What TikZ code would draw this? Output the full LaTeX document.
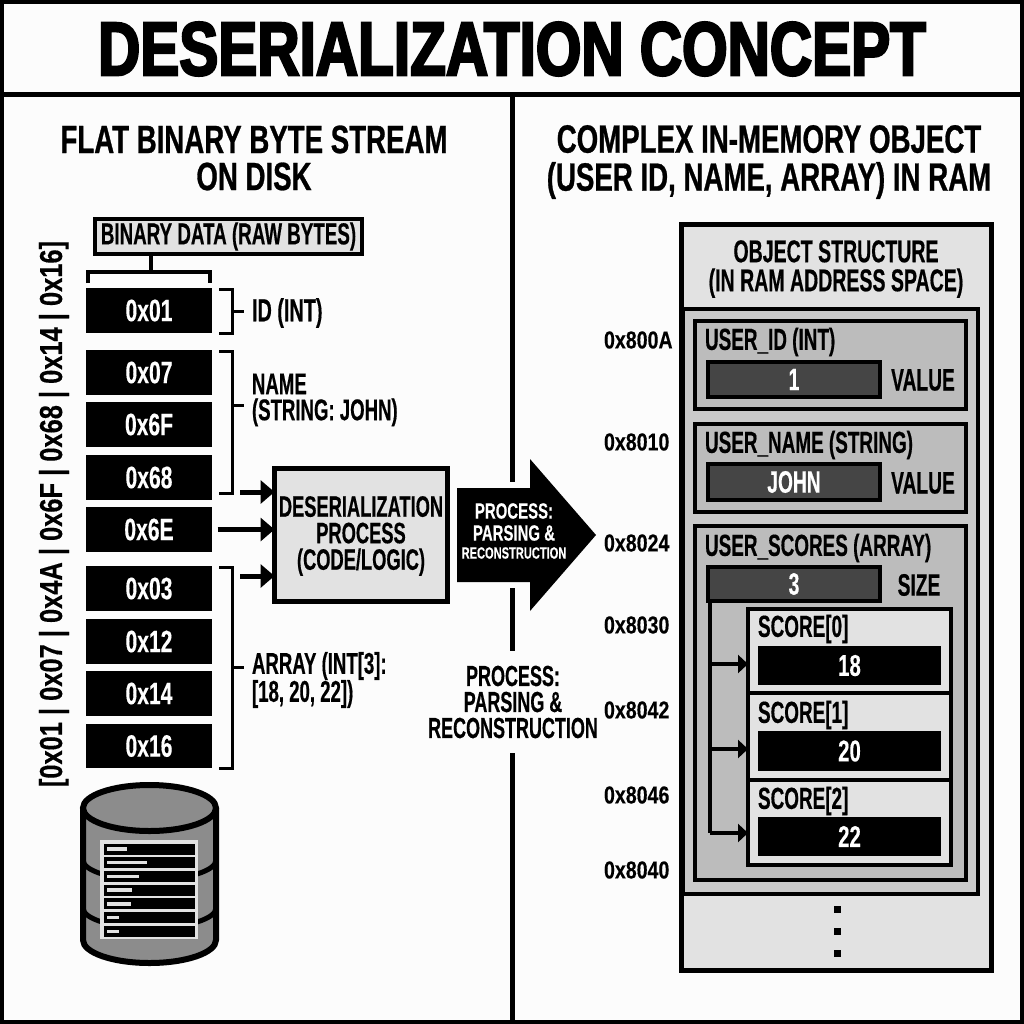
\documentclass[tikz,border=0pt]{standalone}
\usepackage{fontspec}
\setmainfont[FakeStretch=.68,FakeBold=.3]{Liberation Sans Bold}
\newfontfamily\narrowfont[FakeStretch=.62,FakeBold=.4]{Liberation Sans Bold}
\newfontfamily\widefont[FakeStretch=.80,FakeBold=.3]{Liberation Sans Bold}
\newfontfamily\titlefont[FakeStretch=.77,FakeBold=3]{Liberation Sans Bold}
\newfontfamily\headfont[FakeStretch=.70,FakeBold=.7]{Liberation Sans Bold}
\usetikzlibrary{arrows.meta}
\newcommand{\Tsz}[2]{\fontsize{#1}{#2}\selectfont}
\newcommand{\Nsz}[2]{\narrowfont\fontsize{#1}{#2}\selectfont}
\newcommand{\Wsz}[2]{\widefont\fontsize{#1}{#2}\selectfont}
\newcommand{\bx}[8]{%
  \pgfmathsetmacro{\bxw}{#4-#2-#6}\pgfmathsetmacro{\bxh}{#5-#3-#6}%
  \pgfmathsetmacro{\bxx}{(#2+#4)/2}\pgfmathsetmacro{\bxy}{(#3+#5)/2}%
  \node[rect,line width=#6pt,minimum width=\bxw pt,minimum height=\bxh pt,#7] (#1) at (\bxx,\bxy) {#8};}
\definecolor{panel}{HTML}{E2E2E2}
\definecolor{midg}{HTML}{CACACA}
\definecolor{deepg}{HTML}{BCBCBC}
\definecolor{barg}{HTML}{454545}
\definecolor{dbg}{HTML}{8C8C8C}
\tikzset{
  rect/.style={draw=black,rectangle,inner sep=0pt,outer sep=0pt,align=center},
  bytecell/.style={fill=black,text=white,draw=black,font=\Tsz{31}{31}},
  lbl/.style={inner sep=0pt,outer sep=0pt,anchor=west,align=left,text=black},
  ctr/.style={inner sep=0pt,outer sep=0pt,align=center,text=black},
  brk/.style={draw=black,line width=3pt,line cap=butt},
  bigarrow/.style={draw=black,line width=5pt,-{Triangle[length=14pt,width=23pt]}},
  smallarrow/.style={draw=black,line width=3.5pt,-{Triangle[length=10pt,width=18pt]},shorten >=0pt},
  valbar/.style={fill=barg,text=white,font=\Nsz{31}{31}},
  scorebar/.style={fill=black,text=white,font=\Tsz{30}{30}},
  typelbl/.style={lbl,font=\Nsz{30.5}{30.5}},
  addr/.style={lbl,font=\Wsz{24.5}{24.5}},
}
\begin{document}
\begin{tikzpicture}[x=1pt,y=-1pt]
\useasboundingbox (0,0) rectangle (1024,1024);
\fill[white!99!black] (0,0) rectangle (1024,1024);
% frame
\draw[line width=4pt] (2,2) rectangle (1022,1022);
\draw[line width=5pt] (0,95) -- (1024,95);
\coordinate (d0) at (512.5,95); \coordinate (d1) at (512.5,482);
\coordinate (d2) at (512.5,588); \coordinate (d3) at (512.5,651);
\coordinate (d4) at (512.5,753); \coordinate (d5) at (512.5,1024);
\draw[line width=5pt] (d0)--(d1) (d2)--(d3) (d4)--(d5);
% titles
\node[ctr,font=\titlefont\fontsize{76}{76}\selectfont] (title) at (512,49) {DESERIALIZATION CONCEPT};
\node[ctr,font=\headfont\fontsize{39.5}{37}\selectfont] (lefthead) at (254,158) {FLAT BINARY BYTE STREAM\\ON DISK};
\node[ctr,font=\headfont\fontsize{39.5}{38}\selectfont] (righthead) at (769,162) {COMPLEX IN-MEMORY OBJECT\\(USER ID, NAME, ARRAY) IN RAM};
% stream label
\node[ctr,rotate=90,font=\Wsz{31.8}{32}] (stream) at (54,514) {[0x01 | 0x07 | 0x4A | 0x6F | 0x68 | 0x14 | 0x16]};
% binary header
\bx{bin}{93}{217}{364}{256}{4}{fill=panel,font=\Nsz{30.3}{30}}{BINARY DATA (RAW BYTES)}
\coordinate (bt) at (151,272);
\coordinate (bl) at (88,283); \coordinate (br) at (210,283);
\draw[brk,line width=4pt] (bin.south -| bt) -- (bt);
\draw[brk,line width=4pt] (bl) -- (bl |- bt) -- (br |- bt) -- (br);
% bytes
\bx{bA}{86}{288}{212}{333}{1}{bytecell}{0x01}
\bx{bB}{86}{350}{212}{395}{1}{bytecell}{0x07}
\bx{bC}{86}{402}{212}{447}{1}{bytecell}{0x6F}
\bx{bD}{86}{455}{212}{500}{1}{bytecell}{0x68}
\bx{bE}{86}{507}{212}{552}{1}{bytecell}{0x6E}
\bx{bF}{86}{566}{212}{611}{1}{bytecell}{0x03}
\bx{bG}{86}{619}{212}{664}{1}{bytecell}{0x12}
\bx{bH}{86}{671}{212}{716}{1}{bytecell}{0x14}
\bx{bI}{86}{724}{212}{768}{1}{bytecell}{0x16}
% field labels
\node[lbl,font=\Nsz{32}{32}] (lid) at (252,313) {ID (INT)};
\node[lbl,font=\Nsz{30}{26}] (lname) at (252,400) {NAME\\(STRING: JOHN)};
\node[lbl,font=\Nsz{30}{28}] (larr) at (252,680) {ARRAY (INT[3]:\\[0pt][18, 20, 22])};
% brackets
\coordinate (k1a) at (219,289); \coordinate (k1b) at (219,333); \coordinate (k1c) at (232,311);
\draw[brk] (k1a) -- (k1a -| k1c) -- (k1b -| k1c) -- (k1b);
\coordinate (k1d) at (244,311); \draw[brk] (k1c) -- (k1d);
\coordinate (k2a) at (219,351); \coordinate (k2b) at (219,493); \coordinate (k2c) at (232,405);
\draw[brk] (k2a) -- (k2a -| k2c) -- (k2b -| k2c) -- (k2b);
\coordinate (k2d) at (244,405); \draw[brk] (k2c) -- (k2d);
\coordinate (k3a) at (219,567); \coordinate (k3b) at (219,768); \coordinate (k3c) at (232,667);
\draw[brk] (k3a) -- (k3a -| k3c) -- (k3b -| k3c) -- (k3b);
\coordinate (k3d) at (244,667); \draw[brk] (k3c) -- (k3d);
% process
\bx{proc}{272}{466}{450}{604}{5}{fill=panel}{}
\node[ctr,font=\Nsz{29.5}{26.5}] (proct) at (361,536) {DESERIALIZATION\\PROCESS\\(CODE/LOGIC)};
\coordinate (a1) at (240,492); \coordinate (a3) at (240,576);
\draw[bigarrow] (a1) -- (proc.west |- a1);
\draw[bigarrow] (bE.east) ++(6,0) coordinate (a2) -- (proc.west |- a2);
\draw[bigarrow] (a3) -- (proc.west |- a3);
% big arrow
\fill[black] (457,488) -- (530,488) -- (530,459) -- (596,535) -- (530,611) -- (530,582) -- (457,582) -- cycle;
\node[ctr,text=white,font=\Tsz{22}{22}] (p1) at (514,522) {PROCESS:\\PARSING \&};
\node[ctr,text=white,font=\Tsz{16.3}{16}] (p2) at (514,553) {RECONSTRUCTION};
\node[ctr,font=\Nsz{29}{26}] (p3) at (513,702) {PROCESS:\\PARSING \&\\RECONSTRUCTION};
% database
\fill[dbg] (82,808) -- (82,940) arc[start angle=180,end angle=0,x radius=67,y radius=25] -- (216,808) -- cycle;
\draw[line width=5pt] (83,860) arc[start angle=180,end angle=0,x radius=66.5,y radius=20];
\draw[line width=5pt] (83,908) arc[start angle=180,end angle=0,x radius=66.5,y radius=20];
\draw[line width=6pt] (83,808) -- (83,940) arc[start angle=180,end angle=0,x radius=66.5,y radius=23] -- (216,808);
\draw[line width=6pt,fill=dbg] (149.5,808) ellipse[x radius=66.5,y radius=23];
\bx{dbp}{100}{840}{198}{939}{3}{draw=panel,fill=panel}{}
\foreach \yy/\ww in {849/20,862.7/40,876.4/32,890.1/25,903.8/24,917.5/12,931.2/12}{
  \fill[black] (103.5,\yy-5.5) rectangle (195,\yy+5.5);
  \fill[panel] (107,\yy-1.7) rectangle (107+\ww,\yy+1.7);
}
% addresses
\foreach \nm/\yy/\tx in {ad1/340/0x800A,ad2/442/0x8010,ad3/543/0x8024,ad4/625/0x8030,ad5/710/0x8042,ad6/795/0x8046,ad7/870/0x8040}{
  \node[addr] (\nm) at (604,\yy) {\tx};
}
% object
\bx{obj}{679}{222}{994}{973}{5}{fill=panel}{}
\node[ctr,font=\Nsz{31.5}{29}] (objt) at (836,269) {OBJECT STRUCTURE\\(IN RAM ADDRESS SPACE)};
\bx{inner}{681}{307}{980}{896}{4}{fill=midg}{}
\bx{fid}{693}{319}{968}{411}{4}{fill=deepg}{}
\bx{fname}{693}{422}{968}{514}{4}{fill=deepg}{}
\bx{fscores}{693}{524}{968}{882}{4}{fill=deepg}{}
\node[typelbl] (tid) at (705,342) {USER\_ID (INT)};
\node[typelbl] (tname) at (705,445) {USER\_NAME (STRING)};
\node[typelbl] (tscores) at (705,548) {USER\_SCORES (ARRAY)};
\bx{vid}{706}{360}{882}{399}{4}{valbar}{1}
\bx{vname}{706}{462}{882}{502}{4}{valbar}{JOHN}
\bx{vsize}{706}{565}{882}{603}{4}{valbar}{3}
\node[ctr,font=\Nsz{31}{31}] (l1) at (923,380) {VALUE};
\node[ctr,font=\Nsz{31}{31}] (l2) at (923,483) {VALUE};
\node[ctr,font=\Nsz{31}{31}] (l3) at (919,585) {SIZE};
% scores
\bx{s0}{746}{607}{953}{695}{4}{fill=panel}{}
\bx{s1}{746}{691}{953}{782}{4}{fill=panel}{}
\bx{s2}{746}{778}{953}{867}{4}{fill=panel}{}
\node[typelbl] (ts0) at (758,629) {SCORE[0]};
\node[typelbl] (ts1) at (758,715) {SCORE[1]};
\node[typelbl] (ts2) at (758,801) {SCORE[2]};
\bx{v0}{758}{646}{941}{685}{1}{scorebar}{18}
\bx{v1}{758}{731}{941}{771}{1}{scorebar}{20}
\bx{v2}{758}{817}{941}{856}{1}{scorebar}{22}
% array connectors
\coordinate (c0) at (710,664); \coordinate (c1) at (710,749); \coordinate (c2) at (710,833);
\draw[draw=black,line width=3.5pt] (vsize.south -| c0) -- (c2);
\draw[smallarrow] (c0) -- (s0.west |- c0);
\draw[smallarrow] (c1) -- (s1.west |- c1);
\draw[smallarrow] (c2) -- (s2.west |- c2);
% dots
\foreach \yy in {909,931,953}{\fill[black] (833.5,\yy-3.5) rectangle (840.5,\yy+3.5);}
\end{tikzpicture}
\end{document}
